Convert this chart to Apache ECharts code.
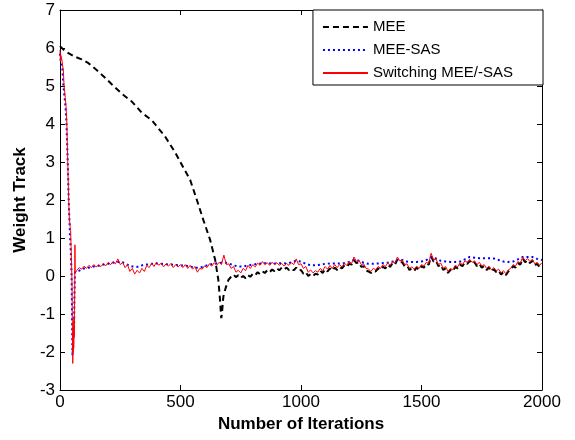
<!DOCTYPE html>
<html>
<head>
<meta charset="utf-8">
<script src="https://cdn.jsdelivr.net/npm/echarts@6/dist/echarts.min.js"></script>
<style>
html,body{margin:0;padding:0;background:#fff;}
#chart{width:575px;height:440px;}
</style>
</head>
<body>
<div id="chart"></div>
<script>
// ---- data ----
const seriesNames = ['MEE', 'MEE-SAS', 'Switching MEE/-SAS'];
const xTicks = [0, 500, 1000, 1500, 2000];
const yTicks = [-3, -2, -1, 0, 1, 2, 3, 4, 5, 6, 7];

// MEE (black dashed)
const meeEarlyX = [0, 20, 62, 90, 118, 152, 187, 222, 256, 298, 339, 381, 436, 478, 512, 540, 568, 595, 623, 644, 657, 664, 669, 672, 675, 678, 688, 699];
const meeEarlyY = [6.05, 5.92, 5.77, 5.7, 5.6, 5.42, 5.22, 5.0, 4.8, 4.59, 4.3, 4.1, 3.67, 3.25, 2.85, 2.53, 2.0, 1.47, 0.95, 0.42, -0.1, -0.63, -1.11, -1.0, -0.75, -0.54, -0.3, -0.1];
const meeLateStart = 710, meeLateStep = 10;
const meeLateY = [
  -0.02, 0.04, -0.03, 0.02, -0.05, 0.0, -0.06, 0.02, -0.02,
  0.06, 0.02, 0.1, 0.05, 0.12, 0.08, 0.15, 0.1, 0.17, 0.13,
  0.2, 0.15, 0.22, 0.17, 0.22, 0.16, 0.2, 0.15, 0.22, 0.14,
  0.16, 0.06, 0.1, 0.0, 0.05, 0.0, 0.06, 0.04, 0.14, 0.08,
  0.18, 0.12, 0.2, 0.14, 0.22, 0.16, 0.24, 0.2, 0.28, 0.24,
  0.32, 0.3, 0.42, 0.34, 0.36, 0.24, 0.26, 0.14, 0.12, 0.08,
  0.14, 0.12, 0.2, 0.16, 0.24, 0.2, 0.3, 0.24, 0.34, 0.3,
  0.44, 0.36, 0.36, 0.26, 0.28, 0.16, 0.2, 0.14, 0.22, 0.16,
  0.26, 0.22, 0.32, 0.3, 0.52, 0.38, 0.4, 0.26, 0.3, 0.16,
  0.2, 0.08, 0.16, 0.12, 0.24, 0.2, 0.3, 0.26, 0.36, 0.32,
  0.4, 0.32, 0.36, 0.26, 0.32, 0.22, 0.26, 0.16, 0.22, 0.12,
  0.18, 0.1, 0.14, 0.04, 0.1, 0.02, 0.12, 0.16, 0.26, 0.22,
  0.34, 0.3, 0.46, 0.36, 0.42, 0.34, 0.4, 0.28, 0.32, 0.24,
  0.31
];

// MEE-SAS (blue dotted)
const sasEarlyX = [0, 3, 6, 10, 14, 18, 23, 27, 30, 33, 36, 39, 42, 45, 48, 50, 51, 52, 54, 56, 58, 60, 62, 65, 70];
const sasEarlyY = [5.85, 5.65, 5.7, 5.45, 5.0, 4.75, 4.45, 4.0, 3.4, 2.8, 2.0, 1.5, 1.0, 0.6, 0.0, -1.0, -1.8, -2.1, -1.8, -1.6, -1.5, -0.5, 0.1, 0.05, 0.1];
const sasLateStart = 80, sasLateStep = 20;
const sasLateY = [
  0.14, 0.2, 0.22, 0.25, 0.27, 0.3, 0.32, 0.35, 0.37,
  0.36, 0.3, 0.25, 0.24, 0.28, 0.3, 0.32, 0.33, 0.32, 0.31,
  0.3, 0.29, 0.28, 0.27, 0.25, 0.22, 0.22, 0.26, 0.3, 0.33,
  0.34, 0.36, 0.33, 0.28, 0.25, 0.25, 0.28, 0.3, 0.32, 0.33,
  0.34, 0.33, 0.33, 0.34, 0.33, 0.36, 0.4, 0.38, 0.32, 0.28,
  0.28, 0.3, 0.32, 0.33, 0.33, 0.33, 0.34, 0.37, 0.42, 0.4,
  0.35, 0.32, 0.32, 0.33, 0.34, 0.35, 0.38, 0.42, 0.42, 0.38,
  0.37, 0.37, 0.38, 0.42, 0.5, 0.46, 0.4, 0.38, 0.37, 0.37,
  0.38, 0.44, 0.5, 0.48, 0.47, 0.47, 0.47, 0.46, 0.42, 0.38,
  0.37, 0.38, 0.44, 0.5, 0.5, 0.5, 0.45, 0.42
];

// Switching MEE/-SAS (red solid)
const swEarlyX = [0, 2, 4, 8, 11, 14, 17, 22, 25, 28, 32, 36, 39, 42, 44, 46, 48, 50, 51, 52, 53, 54, 55, 56, 57, 58, 59, 60, 61, 62, 63, 64, 67];
const swEarlyY = [5.95, 5.65, 5.8, 5.68, 5.7, 5.4, 4.98, 4.7, 4.46, 4.1, 3.05, 2.0, 1.5, 1.3, 1.2, 0.77, 0.3, -0.28, -1.16, -1.8, -2.3, -1.5, -2.0, -1.3, -1.9, -1.1, -1.6, -0.9, -0.5, 0.82, 0.07, 0.05, 0.1];
const swLateStart = 70, swLateStep = 10;
const swLateY = [
  0.15, 0.22, 0.18, 0.26, 0.2, 0.28, 0.22, 0.3, 0.24,
  0.29, 0.25, 0.33, 0.27, 0.36, 0.3, 0.38, 0.32, 0.45, 0.3,
  0.36, 0.22, 0.3, 0.12, 0.2, 0.05, 0.15, 0.08, 0.2, 0.12,
  0.28, 0.22, 0.34, 0.25, 0.36, 0.28, 0.34, 0.24, 0.32, 0.26,
  0.33, 0.22, 0.3, 0.24, 0.3, 0.22, 0.3, 0.2, 0.28, 0.18,
  0.25, 0.1, 0.2, 0.18, 0.27, 0.22, 0.32, 0.26, 0.35, 0.28,
  0.36, 0.3, 0.55, 0.3, 0.32, 0.2, 0.25, 0.1, 0.15, 0.08,
  0.2, 0.14, 0.28, 0.2, 0.3, 0.24, 0.34, 0.28, 0.38, 0.3,
  0.35, 0.28, 0.36, 0.3, 0.35, 0.28, 0.33, 0.26, 0.33, 0.28,
  0.35, 0.3, 0.45, 0.3, 0.32, 0.2, 0.25, 0.1, 0.16, 0.08,
  0.14, 0.1, 0.2, 0.14, 0.25, 0.18, 0.28, 0.2, 0.3, 0.22,
  0.3, 0.24, 0.34, 0.28, 0.38, 0.33, 0.5, 0.38, 0.42, 0.3,
  0.32, 0.2, 0.18, 0.12, 0.2, 0.16, 0.25, 0.2, 0.3, 0.25,
  0.34, 0.28, 0.38, 0.34, 0.5, 0.4, 0.42, 0.3, 0.32, 0.2,
  0.24, 0.18, 0.26, 0.2, 0.3, 0.26, 0.36, 0.33, 0.6, 0.42,
  0.45, 0.3, 0.34, 0.2, 0.25, 0.12, 0.2, 0.16, 0.28, 0.24,
  0.35, 0.3, 0.4, 0.36, 0.44, 0.36, 0.4, 0.3, 0.36, 0.26,
  0.3, 0.2, 0.26, 0.16, 0.22, 0.14, 0.18, 0.08, 0.14, 0.06,
  0.16, 0.2, 0.3, 0.26, 0.38, 0.34, 0.5, 0.4, 0.46, 0.38,
  0.44, 0.32, 0.36, 0.28, 0.35
];

// ---- build [x, y] pairs ----
function build(ex, ey, start, step, ly) {
  const out = [];
  for (let i = 0; i < ex.length; i++) out.push([ex[i], ey[i]]);
  for (let i = 0; i < ly.length; i++) out.push([start + i * step, ly[i]]);
  return out;
}
const meeData = build(meeEarlyX, meeEarlyY, meeLateStart, meeLateStep, meeLateY);
const sasData = build(sasEarlyX, sasEarlyY, sasLateStart, sasLateStep, sasLateY);
const swData = build(swEarlyX, swEarlyY, swLateStart, swLateStep, swLateY);

const FONT = '"Liberation Sans", Arial, Helvetica, sans-serif';
const xMin = xTicks[0], xMax = xTicks[xTicks.length - 1], xInt = xTicks[1] - xTicks[0];
const yMin = yTicks[0], yMax = yTicks[yTicks.length - 1], yInt = yTicks[1] - yTicks[0];

const axisLine = { show: true, onZero: false, lineStyle: { color: '#000', width: 1 } };
const tick = { show: true, inside: true, length: 5, lineStyle: { color: '#000', width: 1 } };

const chart = echarts.init(document.getElementById('chart'), null, { renderer: 'canvas' });
chart.setOption({
  animation: false,
  backgroundColor: '#fff',
  grid: { left: 60, right: 33, top: 10, bottom: 50, containLabel: false },
  xAxis: [
    {
      type: 'value', min: xMin, max: xMax, interval: xInt, position: 'bottom',
      axisLine: axisLine, axisTick: tick, splitLine: { show: false },
      axisLabel: { color: '#000', fontFamily: FONT, fontSize: 17, margin: 4, formatter: function (v) { return String(v); } },
      name: 'Number of Iterations', nameLocation: 'middle', nameGap: 21,
      nameTextStyle: { color: '#000', fontFamily: FONT, fontSize: 17, fontWeight: 'bold' }
    },
    {
      type: 'value', min: xMin, max: xMax, interval: xInt, position: 'top',
      axisLine: axisLine, axisTick: tick, splitLine: { show: false },
      axisLabel: { show: false }
    }
  ],
  yAxis: [
    {
      type: 'value', min: yMin, max: yMax, interval: yInt, position: 'left',
      axisLine: axisLine, axisTick: tick, splitLine: { show: false },
      axisLabel: { color: '#000', fontFamily: FONT, fontSize: 17, margin: 5, formatter: function (v) { return String(v); } },
      name: 'Weight Track', nameLocation: 'middle', nameGap: 30, nameRotate: 90,
      nameTextStyle: { color: '#000', fontFamily: FONT, fontSize: 17, fontWeight: 'bold' }
    },
    {
      type: 'value', min: yMin, max: yMax, interval: yInt, position: 'right',
      axisLine: axisLine, axisTick: tick, splitLine: { show: false },
      axisLabel: { show: false }
    }
  ],
  legend: {
    data: seriesNames,
    orient: 'vertical',
    right: 32, top: 10,
    padding: [9, 30, 4, 9],
    itemGap: 7,
    itemWidth: 45, itemHeight: 14,
    itemStyle: { opacity: 0, borderWidth: 0 },
    backgroundColor: '#fff',
    borderColor: '#000', borderWidth: 1, borderRadius: 0,
    textStyle: { color: '#000', fontFamily: FONT, fontSize: 15, lineHeight: 16 }
  },
  series: [
    {
      name: seriesNames[0], type: 'line', data: meeData, xAxisIndex: 0, yAxisIndex: 0,
      showSymbol: false, symbol: 'none', smooth: false,
      lineStyle: { color: '#000', width: 2, type: [6, 4] }, itemStyle: { color: '#000' }
    },
    {
      name: seriesNames[1], type: 'line', data: sasData, xAxisIndex: 0, yAxisIndex: 0,
      showSymbol: false, symbol: 'none', smooth: false,
      lineStyle: { color: '#0000ff', width: 2, type: [2, 3] }, itemStyle: { color: '#0000ff' }
    },
    {
      name: seriesNames[2], type: 'line', data: swData, xAxisIndex: 0, yAxisIndex: 0,
      showSymbol: false, symbol: 'none', smooth: false,
      lineStyle: { color: '#ff0000', width: 1, type: 'solid' }, itemStyle: { color: '#ff0000' }
    }
  ]
});
</script>
</body>
</html>
